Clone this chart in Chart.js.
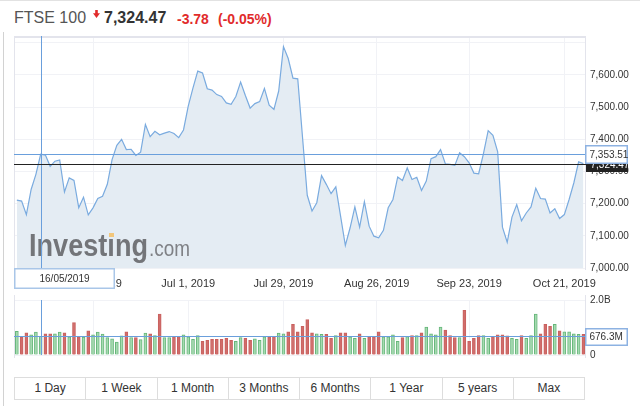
<!DOCTYPE html>
<html><head><meta charset="utf-8">
<script src="https://cdn.jsdelivr.net/npm/chart.js@4.4.1/dist/chart.umd.min.js"></script>
<style>
html,body{margin:0;padding:0;background:#fff;width:640px;height:406px;overflow:hidden;font-family:"Liberation Sans",Arial,sans-serif;}
#wrap{position:relative;width:640px;height:406px;}
.topline{position:absolute;left:0;top:0;width:640px;height:1px;background:#e2e2e2;}
.leftline{position:absolute;left:3px;top:32px;width:1px;height:374px;background:#d2d2d2;}
.t{position:absolute;white-space:nowrap;line-height:20px;}
#name{left:14px;top:8px;font-size:16px;color:#555;}
#last{left:104px;top:8px;font-size:16px;font-weight:bold;color:#333;}
#chg{left:177px;top:9px;font-size:14px;font-weight:bold;color:#e12b2b;}
#pct{left:218px;top:9px;font-size:14px;font-weight:bold;color:#e12b2b;}
canvas{position:absolute;left:0;}
#cA{top:0;}
#cB{top:290px;}
#btns{position:absolute;left:14px;top:377px;width:571px;height:23px;box-sizing:border-box;border:1px solid #ddd;display:flex;}
#btns div{flex:1;text-align:center;font-size:12px;color:#333;line-height:21px;border-right:1px solid #ddd;}
#btns div:last-child{border-right:none;}
</style></head>
<body><div id="wrap">
<div class="topline"></div><div class="leftline"></div>
<span class="t" id="name">FTSE 100</span>
<svg style="position:absolute;left:93px;top:10px" width="7" height="8" viewBox="0 0 7 8"><path d="M2.2 0H4.8V3.2H7L3.5 8L0 3.2H2.2Z" fill="#e12b2b"/></svg>
<span class="t" id="last">7,324.47</span>
<span class="t" id="chg">-3.78</span>
<span class="t" id="pct">(-0.05%)</span>
<canvas id="cA" width="640" height="290"></canvas>
<canvas id="cB" width="640" height="75"></canvas>
<div id="btns"></div>
</div>
<script>
// ---- data ----
const price = [
7211,7208,7166,7244,7291,7353.51,7351,7316,7332,7336,
7236,7280,7272,7187,7220,7165,7187,7216,7223,7260,
7337,7381,7400,7368,7369,7350,7360,7446,7408,7425,
7414,7419,7424,7418,7405,7429,7503,7560,7612,7606,
7557,7553,7539,7533,7513,7509,7533,7578,7536,7497,
7511,7517,7558,7506,7493,7550,7688,7651,7590,7588,
7407,7226,7177,7203,7287,7260,7231,7252,7161,7070,
7125,7190,7127,7206,7130,7099,7094,7117,7187,7213,
7283,7272,7311,7275,7282,7241,7270,7340,7346,7368,
7324,7322,7319,7358,7346,7327,7295,7293,7355,7427,
7412,7361,7127,7080,7158,7197,7147,7171,7190,7248,
7216,7214,7171,7184,7154,7166,7213,7265,7330,7324.47];
const volume = [ // millions
863,648,807,738,829,676.3,772,772,772,829,
807,659,1181,659,648,875,738,829,761,636,
591,466,693,841,636,636,557,795,772,704,
1488,636,636,670,670,738,659,568,704,500,
534,568,568,568,602,534,500,636,602,534,
591,534,659,659,670,795,772,841,1113,841,
1045,1284,807,772,750,750,602,704,807,807,
659,602,772,602,670,659,841,659,659,738,
500,636,670,704,704,807,1011,772,738,1011,
909,704,636,636,1624,500,602,704,704,602,
670,738,738,700,602,568,704,602,704,1488,
772,1113,1045,1113,875,841,841,772,750,750];
const tickIdx = [16, 36, 56, 75.6, 95, 115];
const tickLabels = ["Jun 3, 2019","Jul 1, 2019","Jul 29, 2019","Aug 26, 2019","Sep 23, 2019","Oct 21, 2019"];
const priceTicks = [7000,7100,7200,7300,7400,7500,7600,7700];
const volTicks = [0, 2000];
const volTickLabels = ["0","2.0B"];
const crossIdx = 5;
const crossDate = "16/05/2019";
const periods = ["1 Day","1 Week","1 Month","3 Months","6 Months","1 Year","5 years","Max"];

document.getElementById('btns').innerHTML = periods.map(p=>'<div>'+p+'</div>').join('');

Chart.defaults.font.family = '"Liberation Sans", Arial, sans-serif';
const fmt2 = v => v.toLocaleString('en-US',{minimumFractionDigits:2,maximumFractionDigits:2});
const X_MIN = -0.6, X_MAX = 119.55;
const FRAME = '#e3e4ec', GRID = '#f1f2f6', CROSS = '#6a9fdc';

function labelBox(ctx, x, yc, w, h, fill, stroke, text, color){
  const y = Math.round(yc - h/2);
  ctx.fillStyle = fill; ctx.fillRect(x, y, w, h);
  if (stroke){ ctx.strokeStyle = stroke; ctx.lineWidth = 1.5; ctx.strokeRect(x+0.75, y+0.75, w-1.5, h-1.5); }
  ctx.fillStyle = color; ctx.font = '10px "Liberation Sans"';
  ctx.textBaseline = 'middle'; ctx.textAlign = 'left';
  ctx.fillText(text, x+4.5, y+h/2+0.5);
}

const overlayA = {
  id:'overlayA',
  afterDatasetsDraw(chart){
    const ctx = chart.ctx;
    ctx.save();
    ctx.fillStyle = '#737579';
    ctx.font = 'bold 31px "Liberation Sans"';
    ctx.textBaseline = 'alphabetic';
    let w = ctx.measureText('Investing').width;
    ctx.translate(29, 256); ctx.scale(119/w, 1); ctx.fillText('Investing', 0, 0);
    ctx.restore();
    ctx.save();
    ctx.fillStyle = '#7f8185';
    ctx.font = '22px "Liberation Sans"';
    w = ctx.measureText('.com').width;
    ctx.translate(149, 256); ctx.scale(41/w, 1); ctx.fillText('.com', 0, 0);
    ctx.restore();
    ctx.fillStyle = '#f2c67a'; ctx.fillRect(109, 233, 5, 4);
  },
  afterDraw(chart){
    const {ctx, chartArea:a, scales:{x, y}} = chart;
    ctx.save();
    ctx.strokeStyle = FRAME; ctx.lineWidth = 1;
    ctx.beginPath();
    ctx.moveTo(a.left+0.5, a.bottom+2); ctx.lineTo(a.left+0.5, a.top+0.5);
    ctx.lineTo(a.right-0.5, a.top+0.5); ctx.lineTo(a.right-0.5, a.bottom+2);
    ctx.stroke();
    ctx.lineWidth = 2; ctx.beginPath(); ctx.moveTo(a.left, a.top+1); ctx.lineTo(a.right, a.top+1); ctx.stroke();
    ctx.lineWidth = 1;
    ctx.strokeStyle = CROSS;
    const cx = Math.round(x.getPixelForValue(crossIdx)) + 0.5;
    ctx.beginPath(); ctx.moveTo(cx, a.top); ctx.lineTo(cx, a.bottom); ctx.stroke();
    const cy = Math.round(y.getPixelForValue(price[crossIdx])) + 0.5;
    ctx.beginPath(); ctx.moveTo(a.left, cy); ctx.lineTo(a.right, cy); ctx.stroke();
    const lastV = price[price.length-1];
    const ly = Math.round(y.getPixelForValue(lastV)) + 0.5;
    ctx.strokeStyle = '#222';
    ctx.beginPath(); ctx.moveTo(a.left, ly); ctx.lineTo(a.right, ly); ctx.stroke();
    labelBox(ctx, 586, ly, 42, 14, '#222', null, fmt2(lastV), '#fff');
    labelBox(ctx, 585, cy, 43, 19, '#fff', '#8db2e2', fmt2(price[crossIdx]), '#333');
    ctx.fillStyle = '#fff'; ctx.fillRect(14, 268, 101, 21);
    ctx.strokeStyle = '#a9c6e8'; ctx.lineWidth = 1.5; ctx.strokeRect(14.75, 268.75, 99.5, 19.5);
    ctx.fillStyle = '#333'; ctx.font = '10px "Liberation Sans"';
    ctx.textAlign = 'center'; ctx.textBaseline = 'middle';
    ctx.fillText(crossDate, 64.5, 279);
    ctx.restore();
  }
};

new Chart(document.getElementById('cA'), {
  type:'line',
  data:{datasets:[{
    data: price.map((v,i)=>({x:i, y:v})),
    borderColor:'#7aabdf', borderWidth:1.2, backgroundColor:'#e4ecf3',
    fill:'start', pointRadius:0, tension:0
  }]},
  options:{
    responsive:false, animation:false, devicePixelRatio:1,
    layout:{padding:{left:14, top:36, right:0, bottom:0}},
    plugins:{legend:{display:false}, tooltip:{enabled:false}},
    scales:{
      x:{type:'linear', min:X_MIN, max:X_MAX, position:'bottom', offset:false,
        afterBuildTicks: s => { s.ticks = tickIdx.map(v=>({value:v})); },
        afterFit: s => { s.height = 22; },
        ticks:{callback:(v,i)=>tickLabels[i], font:{size:11}, color:'#333', padding:9, maxRotation:0, autoSkip:false},
        grid:{color:GRID, drawTicks:false, offset:false}, border:{display:false}},
      y:{position:'right', min:7000, max:7721,
        afterFit: s => { s.width = 54; },
        afterBuildTicks: s => { s.ticks = priceTicks.map(v=>({value:v})); },
        ticks:{callback: v => v === 7700 ? '' : fmt2(v), font:{size:10}, color:'#333', padding:4},
        grid:{color:GRID, drawTicks:false}, border:{display:false}}
    }
  },
  plugins:[overlayA]
});

const upFlags = price.map((v,i)=> i===0 ? true : v >= price[i-1]);
const overlayB = {
  id:'overlayB',
  afterDraw(chart){
    const {ctx, chartArea:a, scales:{x, y}} = chart;
    ctx.save();
    ctx.strokeStyle = FRAME; ctx.lineWidth = 1;
    ctx.beginPath();
    ctx.moveTo(a.left+0.5, a.top-5); ctx.lineTo(a.left+0.5, a.bottom+3);
    ctx.moveTo(a.right-0.5, a.top-5); ctx.lineTo(a.right-0.5, a.bottom+3);
    ctx.stroke();
    const cx = Math.round(x.getPixelForValue(crossIdx)) + 0.5;
    const cy = Math.round(y.getPixelForValue(volume[crossIdx])) + 0.5;
    ctx.strokeStyle = CROSS;
    ctx.beginPath(); ctx.moveTo(cx, a.top); ctx.lineTo(cx, a.bottom); ctx.stroke();
    ctx.beginPath(); ctx.moveTo(a.left, cy); ctx.lineTo(a.right, cy); ctx.stroke();
    labelBox(ctx, 585, cy, 43, 18, '#fff', '#8db2e2', volume[crossIdx].toFixed(1)+'M', '#333');
    ctx.restore();
  }
};

new Chart(document.getElementById('cB'), {
  type:'bar',
  data:{datasets:[{
    data: volume.map((v,i)=>({x:i, y:v})),
    backgroundColor: upFlags.map(u => u ? '#a6dab1' : '#d06d6b'),
    borderColor: upFlags.map(u => u ? '#66b67a' : '#c9605e'),
    borderWidth:1, barThickness:3
  }]},
  options:{
    responsive:false, animation:false, devicePixelRatio:1,
    layout:{padding:{left:14, top:6, right:0, bottom:10}},
    plugins:{legend:{display:false}, tooltip:{enabled:false}},
    scales:{
      x:{type:'linear', min:X_MIN, max:X_MAX, offset:false,
        afterBuildTicks: s => { s.ticks = tickIdx.map(v=>({value:v})); },
        afterFit: s => { s.height = 0; },
        ticks:{display:false}, grid:{color:GRID, drawTicks:false, offset:false}, border:{display:false}},
      y:{position:'right', min:0, max:2000,
        afterFit: s => { s.width = 54; },
        afterBuildTicks: s => { s.ticks = volTicks.map(v=>({value:v})); },
        ticks:{callback:(v,i)=>volTickLabels[i], font:{size:10}, color:'#333', padding:4},
        grid:{color:GRID, drawTicks:false}, border:{display:false}}
    }
  },
  plugins:[overlayB]
});
</script>
</body></html>
